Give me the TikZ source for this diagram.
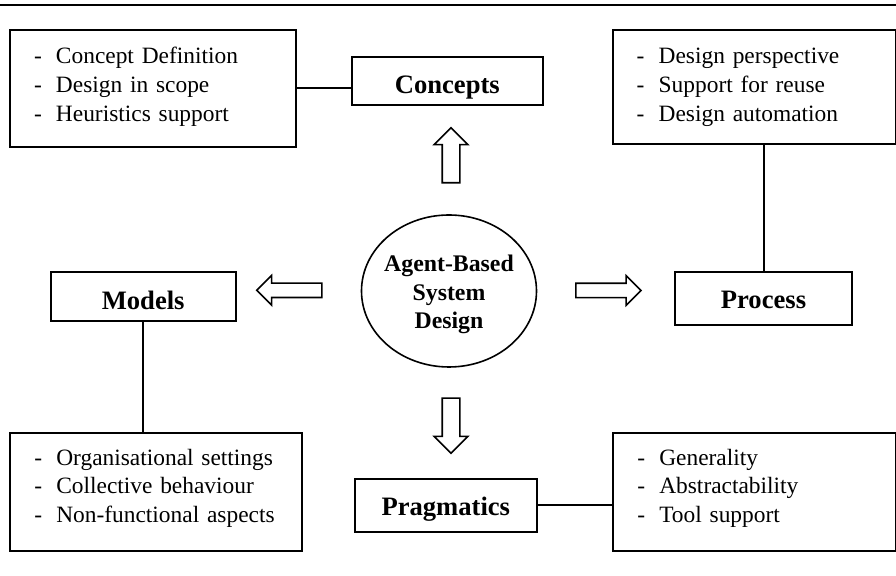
\documentclass[tikz,border=0pt]{standalone}
\usepackage{fontspec}
\setmainfont{Liberation Serif}
\usetikzlibrary{shapes.geometric}
\usetikzlibrary{shapes.arrows}
\newcommand{\dashitem}{\makebox[11pt][l]{-}}

\begin{document}
\begin{tikzpicture}[x=0.5pt, y=-0.5pt,
  every node/.style = {line width=1pt},
  title/.style = {draw, inner sep=0pt, text height=18.3pt, font=\fontsize{13.3}{16}\selectfont\bfseries},
  listbox/.style = {draw, anchor=north west, align=left, inner xsep=12pt, inner ysep=0pt,
    text height=17pt, text depth=41.5pt, font=\fontsize{11.7}{14.3}\selectfont},
  bigarrow/.style = {single arrow, draw, line width=0.8pt, minimum height=32.5pt,
    inner xsep=0pt, inner ysep=3.2pt, single arrow head extend=3.8pt}]

\useasboundingbox (0,0) rectangle (896,576);
\coordinate (ruleL) at (0,4.7);
\coordinate (ruleR) at (896,4.7);
\draw[line width=0.9pt] (ruleL) -- (ruleR);

\node[ellipse, draw, line width=0.8pt, minimum width=87.5pt, minimum height=76pt,
  label={[font=\fontsize{11.9}{14.1}\selectfont\bfseries, align=center, yshift=-1.75pt]center:Agent-Based\\System\\Design}]
  (abs) at (449,291) {};

\node[title, minimum width=95.3pt, text depth=5.9pt] (concepts) at (447.3,80.8) {Concepts};
\node[title, minimum width=88.5pt, text depth=8.4pt] (process) at (763.5,298.3) {Process};
\node[title, minimum width=92.5pt, text height=18.5pt, text depth=5.7pt] (models) at (143.2,296.5) {Models};
\node[title, minimum width=90.9pt, text height=18.35pt, text depth=7.85pt] (pragmatics) at (445.8,505.5) {Pragmatics};

\node[listbox, text width=118.75pt] (conlist) at (9,29)
  {\dashitem Concept Definition\\\dashitem Design in scope\\\dashitem Heuristics support};
\node[listbox, text width=117.4pt, text depth=40.2pt] (proclist) at (611.7,29)
  {\dashitem Design perspective\\\dashitem Support for reuse\\\dashitem Design automation};
\node[listbox, text width=121.9pt, text height=16pt, text depth=42.9pt] (modlist) at (9.3,432.3)
  {\dashitem Organisational settings\\\dashitem Collective behaviour\\\dashitem Non-functional aspects};
\node[listbox, text width=117.1pt, text height=16pt, text depth=42.9pt] (praglist) at (612.3,432.3)
  {\dashitem Generality\\\dashitem Abstractability\\\dashitem Tool support};

\node[bigarrow, rotate=90, minimum height=27.5pt, inner ysep=4pt, single arrow head extend=4pt] (up) at (451,159.7) {};
\node[bigarrow, rotate=-90, minimum height=27.5pt, inner ysep=4pt, single arrow head extend=4pt] (down) at (451,421.3) {};
\node[bigarrow, rotate=180] (left) at (292.9,290.3) {};
\node[bigarrow] (right) at (604.8,290.5) {};

\draw[line width=1pt] (conlist.east) -- (conlist.east -| concepts.west);
\draw[line width=1pt] (process.north) -- (process.north |- proclist.south);
\draw[line width=1pt] (models.south) -- (models.south |- modlist.north);
\draw[line width=1pt] (pragmatics.east) -- (pragmatics.east -| praglist.west);
\end{tikzpicture}
\end{document}
